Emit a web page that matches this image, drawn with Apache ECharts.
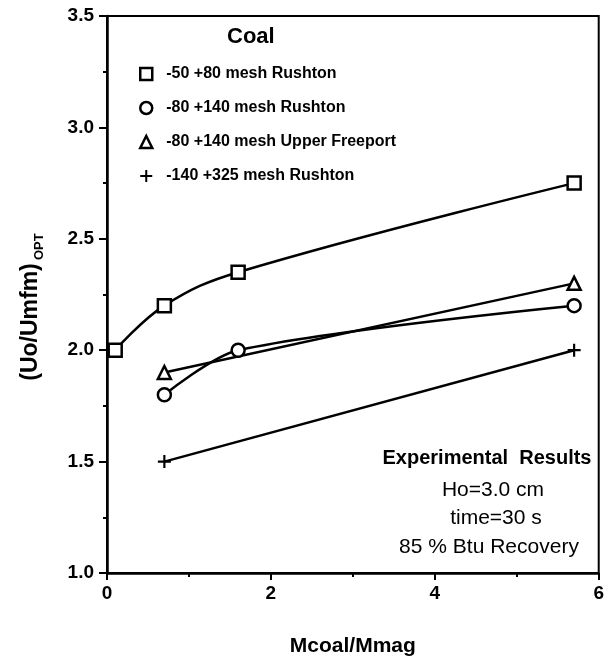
<!DOCTYPE html>
<html>
<head>
<meta charset="utf-8">
<script src="https://cdn.jsdelivr.net/npm/echarts@6/dist/echarts.min.js"></script>
<style>html,body{margin:0;padding:0;background:#fff}#c{width:607px;height:662px}</style>
</head>
<body>
<div id="c"></div>
<script>
var seriesNames = ['-50 +80 mesh Rushton', '-80 +140 mesh Rushton', '-80 +140 mesh Upper Freeport', '-140 +325 mesh Rushton'];
var squareX = [0.1, 0.7, 1.6, 5.7];
var squareY = [2.0, 2.2, 2.35, 2.75];
var circleX = [0.7, 1.6, 5.7];
var circleY = [1.8, 2.0, 2.2];
var triangleX = [0.7, 5.7];
var triangleY = [1.9, 2.3];
var plusX = [0.7, 5.7];
var plusY = [1.5, 2.0];
var xTicks = [0, 2, 4, 6];
var yTicks = [1.0, 1.5, 2.0, 2.5, 3.0, 3.5];

function pairs(xs, ys) { return xs.map(function (x, i) { return [x, ys[i]]; }); }

var plusPath = 'path://M5,0L7,0L7,5L12,5L12,7L7,7L7,12L5,12L5,7L0,7L0,5L5,5Z';
var hollow = { color: '#fff', borderColor: '#000', borderWidth: 2.5 };
var FONT = 'Liberation Sans, Arial, sans-serif';

var chart = echarts.init(document.getElementById('c'));
chart.setOption({
  animation: false,
  grid: { left: 107, right: 6, top: 16, bottom: 89, show: true, borderColor: '#000', borderWidth: 2, containLabel: false },
  xAxis: {
    type: 'value', min: 0, max: 6, interval: 2,
    axisLine: { lineStyle: { color: '#000', width: 2.5 } },
    axisTick: { show: true, length: 7, lineStyle: { color: '#000', width: 2 } },
    minorTick: { show: true, splitNumber: 2, length: 4, lineStyle: { color: '#000', width: 2 } },
    splitLine: { show: false },
    axisLabel: { color: '#000', fontSize: 19, fontWeight: 'bold', fontFamily: FONT, margin: 11,
      formatter: function (v) { return xTicks.indexOf(v) >= 0 ? String(v) : ''; } },
    name: 'Mcoal/Mmag', nameLocation: 'middle', nameGap: 63,
    nameTextStyle: { color: '#000', fontSize: 21, fontWeight: 'bold', fontFamily: FONT }
  },
  yAxis: {
    type: 'value', min: 1.0, max: 3.5, interval: 0.5,
    axisLine: { lineStyle: { color: '#000', width: 2.5 } },
    axisTick: { show: true, length: 8, lineStyle: { color: '#000', width: 2 } },
    minorTick: { show: true, splitNumber: 2, length: 4, lineStyle: { color: '#000', width: 2 } },
    splitLine: { show: false },
    axisLabel: { color: '#000', fontSize: 19, fontWeight: 'bold', fontFamily: FONT, margin: 13,
      formatter: function (v) { return yTicks.indexOf(Math.round(v * 10) / 10) >= 0 ? v.toFixed(1) : ''; } }
  },
  legend: {
    orient: 'vertical', left: 134, top: 60, itemWidth: 12, itemHeight: 12, itemGap: 16,
    itemStyle: { borderWidth: 2.5 },
    textStyle: { color: '#000', fontSize: 16, fontWeight: 'bold', fontFamily: FONT, lineHeight: 18, padding: [0, 0, 0, 9] },
    data: [
      { name: seriesNames[0], icon: 'rect' },
      { name: seriesNames[1], icon: 'circle' },
      { name: seriesNames[2], icon: 'triangle' },
      { name: seriesNames[3], icon: plusPath }
    ]
  },
  graphic: [
    { type: 'text', left: 227, top: 26, style: { text: 'Coal', font: 'bold 22px ' + FONT, fill: '#000' } },
    { type: 'text', x: 487, y: 458, style: { text: 'Experimental  Results', font: 'bold 20px ' + FONT, fill: '#000', align: 'center', verticalAlign: 'middle' } },
    { type: 'text', x: 493, y: 490, style: { text: 'Ho=3.0 cm', font: '21px ' + FONT, fill: '#000', align: 'center', verticalAlign: 'middle' } },
    { type: 'text', x: 496, y: 518, style: { text: 'time=30 s', font: '21px ' + FONT, fill: '#000', align: 'center', verticalAlign: 'middle' } },
    { type: 'text', x: 489, y: 547, style: { text: '85 % Btu Recovery', font: '21px ' + FONT, fill: '#000', align: 'center', verticalAlign: 'middle' } },
    { type: 'group', x: 31, y: 322, rotation: Math.PI / 2, children: [
      { type: 'text', x: 0, y: 0, style: { text: '(Uo/Umfm)', font: 'bold 23px ' + FONT, fill: '#000', align: 'center', verticalAlign: 'middle' } },
      { type: 'text', x: 62, y: 8, style: { text: 'OPT', font: 'bold 13px ' + FONT, fill: '#000', align: 'left', verticalAlign: 'middle' } }
    ] }
  ],
  series: [
    { name: seriesNames[0], type: 'line', data: pairs(squareX, squareY), symbol: 'rect', symbolSize: 13, smooth: 0.4,
      itemStyle: hollow, lineStyle: { color: '#000', width: 2.5 } },
    { name: seriesNames[1], type: 'line', data: pairs(circleX, circleY), symbol: 'circle', symbolSize: 13, smooth: 0.3,
      itemStyle: hollow, lineStyle: { color: '#000', width: 2.5 } },
    { name: seriesNames[2], type: 'line', data: pairs(triangleX, triangleY), symbol: 'triangle', symbolSize: 13,
      itemStyle: hollow, lineStyle: { color: '#000', width: 2.5 } },
    { name: seriesNames[3], type: 'line', data: pairs(plusX, plusY), symbol: plusPath, symbolSize: 13,
      itemStyle: { color: '#000', borderWidth: 0 }, lineStyle: { color: '#000', width: 2.5 } }
  ]
});
</script>
</body>
</html>
